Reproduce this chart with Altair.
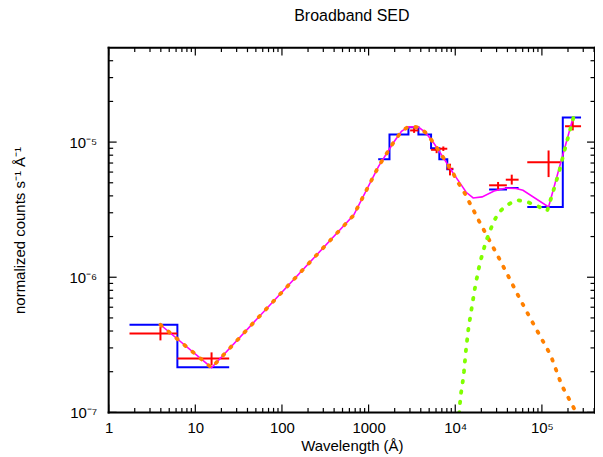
import altair as alt
import pandas as pd

FONT = "Liberation Sans"
X_DOMAIN = [1, 4.1e5]
Y_DOMAIN = [1e-7, 5e-5]

# ---- tick values -------------------------------------------------------
x_major = [1, 10, 100, 1000, 1e4, 1e5]
x_labels = ["1", "10", "100", "1000", "10⁴", "10⁵"]
x_minor = [m * 10 ** k for k in range(0, 6) for m in range(2, 10) if m * 10 ** k < 4.1e5]
y_major = [1e-7, 1e-6, 1e-5]
y_labels = ["10⁻⁷", "10⁻⁶", "10⁻⁵"]
y_minor = [m * 10.0 ** k for k in (-7, -6, -5) for m in range(2, 10) if m * 10.0 ** k < 4.95e-5]

# ---- folded model histogram (blue): groups of bins (lo, hi, level) -------
blue_group = [0, 0, 1, 1, 1, 1, 1, 1, 1, 2, 2, 3, 3]
blue_lo = [1.74, 6.21, 1290, 1742, 2882, 3758, 5260, 6551, 8090, 24580, 38580, 67790, 174200]
blue_hi = [6.21, 24.6, 1742, 2882, 3758, 5260, 6551, 8090, 9500, 38580, 53830, 174200, 283000]
blue_val = [4.45e-7, 2.16e-7, 7.45e-6, 1.14e-5, 1.29e-5, 1.14e-5, 9.0e-6, 7.45e-6, 6.3e-6,
            4.45e-6, 4.57e-6, 3.31e-6, 1.52e-5]

# ---- data points (red) ---------------------------------------------------
pt_x = [3.96, 15.4, 3352, 6095, 7283, 8690, 31200, 44870, 119400, 227000]
pt_xlo = [1.74, 6.21, 3013, 5260, 6672, 7947, 24580, 38280, 67790, 185000]
pt_xhi = [6.21, 24.6, 3758, 6672, 8090, 9500, 39400, 53830, 166600, 283000]
pt_y = [3.84e-7, 2.50e-7, 1.22e-5, 8.77e-6, 8.93e-6, 6.35e-6, 4.79e-6, 5.27e-6, 7.08e-6, 1.31e-5]
pt_ylo = [3.41e-7, 2.23e-7, 1.17e-5, 8.28e-6, 8.60e-6, 5.67e-6, 4.40e-6, 4.85e-6, 5.51e-6, 1.22e-5]
pt_yhi = [4.30e-7, 2.78e-7, 1.27e-5, 9.28e-6, 9.28e-6, 6.92e-6, 5.07e-6, 5.74e-6, 8.67e-6, 1.43e-5]

# ---- total model (magenta) -----------------------------------------------
tot_x = [3.96, 15.4, 673, 1303, 1938, 2395, 2882, 3758, 4519, 5590, 6551, 7880, 9490,
         11410, 13370, 16090, 20420, 28070, 38580, 50240, 60500, 119400, 227000]
tot_y = [4.45e-7, 2.14e-7, 2.88e-6, 6.61e-6, 9.93e-6, 1.20e-5, 1.30e-5, 1.29e-5, 1.18e-5,
         9.93e-6, 8.53e-6, 7.08e-6, 5.87e-6, 4.95e-6, 4.25e-6, 3.86e-6, 3.93e-6, 4.35e-6,
         4.57e-6, 4.53e-6, 4.40e-6, 3.31e-6, 1.49e-5]

# ---- component 1 (orange, dotted) ----------------------------------------
c1_x = [3.96, 15.4, 673, 1303, 1938, 2395, 2882, 3758, 4519, 5590, 6551, 7880, 9490,
        10350, 12360, 14100, 16090, 18370, 24400, 32040, 41760, 54420, 71500, 94830,
        125900, 169800, 221500, 252400]
c1_y = [4.45e-7, 2.14e-7, 2.88e-6, 6.61e-6, 9.93e-6, 1.20e-5, 1.30e-5, 1.29e-5, 1.18e-5,
        9.93e-6, 8.53e-6, 7.08e-6, 5.87e-6, 5.21e-6, 4.40e-6, 3.72e-6, 3.17e-6, 2.68e-6,
        1.91e-6, 1.38e-6, 9.93e-7, 7.12e-7, 5.13e-7, 3.69e-7, 2.66e-7, 1.58e-7, 1.15e-7, 9.8e-8]

# ---- component 2 (green, dotted) -----------------------------------------
c2_x = [11120, 11320, 11640, 12150, 12600, 13280, 14230, 15570, 17110, 19220, 22540,
        27560, 31770, 38900, 51640, 67790, 89950, 115100, 139800, 159600, 182300, 207900, 231300]
c2_y = [9.8e-8, 1.16e-7, 1.38e-7, 1.65e-7, 2.00e-7, 2.88e-7, 4.23e-7, 6.07e-7, 8.78e-7,
        1.27e-6, 1.83e-6, 2.56e-6, 3.01e-6, 3.41e-6, 3.72e-6, 3.61e-6, 3.35e-6, 3.10e-6,
        4.65e-6, 6.18e-6, 8.67e-6, 1.18e-5, 1.52e-5]

W, H = 488, 366
MAJ, MIN = 8, 4.5

xs = alt.Scale(type="log", domain=X_DOMAIN, nice=False)
ys = alt.Scale(type="log", domain=Y_DOMAIN, nice=False)

x_expr = "[" + ",".join("'%s'" % s for s in x_labels) + "][round(log(datum.value)/LN10)]"
y_expr = "[" + ",".join("'%s'" % s for s in y_labels) + "][round(log(datum.value)/LN10)+7]"

xaxis = alt.Axis(values=x_major, labelExpr=x_expr, ticks=False, tickSize=0, domain=False,
                 grid=False, labelPadding=8, title="Wavelength (Å)", titlePadding=3,
                 labelFont=FONT, titleFont=FONT, labelFontSize=15, titleFontSize=15,
                 titleFontWeight="normal", labelColor="black", titleColor="black",
                 labelFlush=False, labelOverlap=False)
yaxis = alt.Axis(values=y_major, labelExpr=y_expr, ticks=False, tickSize=0, domain=False,
                 grid=False, labelPadding=12, title="normalized counts s⁻¹ Å⁻¹",
                 titlePadding=42, labelFont=FONT, titleFont=FONT, labelFontSize=15,
                 titleFontSize=15, titleFontWeight="normal", labelColor="black",
                 titleColor="black", labelFlush=False, labelOverlap=False)

# blue step polylines
brows = []
for i, (g, lo, hi, v) in enumerate(zip(blue_group, blue_lo, blue_hi, blue_val)):
    brows.append({"g": g, "o": 2 * i, "x": lo, "y": v})
    brows.append({"g": g, "o": 2 * i + 1, "x": hi, "y": v})
bdf = pd.DataFrame(brows)

blue = alt.Chart(bdf).mark_line(color="#0000ff", strokeWidth=2, clip=True).encode(
    x=alt.X("x:Q", scale=xs, axis=xaxis),
    y=alt.Y("y:Q", scale=ys, axis=yaxis),
    detail="g:N", order="o:Q")

pdf = pd.DataFrame({"x": pt_x, "xlo": pt_xlo, "xhi": pt_xhi, "y": pt_y, "ylo": pt_ylo, "yhi": pt_yhi})
red_h = alt.Chart(pdf).mark_rule(color="#ff0000", strokeWidth=2).encode(
    x=alt.X("xlo:Q", scale=xs), x2="xhi:Q", y=alt.Y("y:Q", scale=ys))
red_v = alt.Chart(pdf).mark_rule(color="#ff0000", strokeWidth=2).encode(
    x=alt.X("x:Q", scale=xs), y=alt.Y("ylo:Q", scale=ys), y2="yhi:Q")

def line(xv, yv, **kw):
    df = pd.DataFrame({"x": xv, "y": yv, "o": list(range(len(xv)))})
    return alt.Chart(df).mark_line(clip=True, **kw).encode(
        x=alt.X("x:Q", scale=xs), y=alt.Y("y:Q", scale=ys), order="o:Q")

tot = line(tot_x, tot_y, color="#ff00ff", strokeWidth=1.6)
c1 = line(c1_x, c1_y, color="#ff8000", strokeWidth=3.8, strokeDash=[1.5, 9], strokeCap="round")
c2 = line(c2_x, c2_y, color="#80ff00", strokeWidth=3.8, strokeDash=[1.5, 9], strokeCap="round")

# frame ticks (inward, all four sides)
def xticks(vals, length):
    df = pd.DataFrame({"v": vals})
    b = alt.Chart(df).mark_rule(color="black", strokeWidth=1.2).encode(
        x=alt.X("v:Q", scale=xs), y=alt.value(H), y2=alt.value(H - length))
    t = alt.Chart(df).mark_rule(color="black", strokeWidth=1.2).encode(
        x=alt.X("v:Q", scale=xs), y=alt.value(0), y2=alt.value(length))
    return [b, t]

def yticks(vals, length):
    df = pd.DataFrame({"v": vals})
    l = alt.Chart(df).mark_rule(color="black", strokeWidth=1.2).encode(
        y=alt.Y("v:Q", scale=ys), x=alt.value(0), x2=alt.value(length))
    r = alt.Chart(df).mark_rule(color="black", strokeWidth=1.2).encode(
        y=alt.Y("v:Q", scale=ys), x=alt.value(W), x2=alt.value(W - length))
    return [l, r]

ticks = xticks(x_major, MAJ) + xticks(x_minor, MIN) + yticks(y_major, MAJ) + yticks(y_minor, MIN)

# frame box
frame_df = pd.DataFrame({"k": [0]})
fb = alt.Chart(frame_df).mark_rule(color="black", strokeWidth=2, strokeCap="square")
frame = [
    fb.encode(x=alt.value(0), x2=alt.value(W), y=alt.value(0)),
    fb.encode(x=alt.value(0), x2=alt.value(W), y=alt.value(H)),
    fb.encode(x=alt.value(0), y=alt.value(0), y2=alt.value(H)),
    fb.encode(x=alt.value(W), y=alt.value(0), y2=alt.value(H)),
]

chart = alt.layer(blue, red_h, red_v, tot, c1, c2, *ticks, *frame).properties(
    width=W, height=H,
    title=alt.Title("Broadband SED", font=FONT, fontSize=16, fontWeight="normal",
                    color="black", offset=22),
    autosize=alt.AutoSizeParams(type="none"),
    padding={"left": 101, "top": 39, "right": 0, "bottom": 44},
).configure_view(strokeWidth=0).configure(background="white")

chart.save("out.html", embed_options={"renderer": "svg", "actions": False})
